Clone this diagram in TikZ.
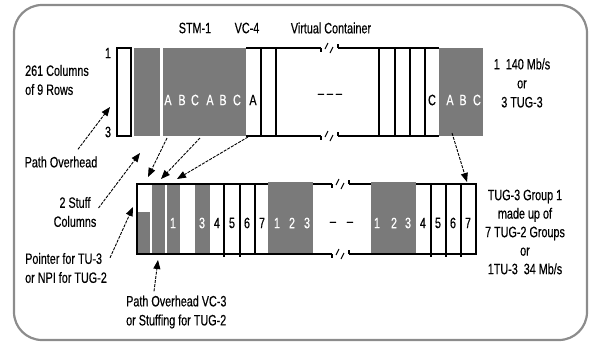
\documentclass[tikz,border=0pt]{standalone}
\usepackage{fontspec}
\setmainfont{Liberation Sans}[FakeStretch=0.72,FakeBold=0.4]
\usetikzlibrary{positioning,arrows.meta}
\definecolor{framegray}{RGB}{140,140,140}
\definecolor{cellgray}{RGB}{122,122,122}

\begin{document}
\begin{tikzpicture}[
        x=1pt, y=-1pt,
        font=\fontsize{15}{19}\selectfont,
        lbl/.style={inner sep=0pt, align=center},
        cell/.style={inner sep=0pt},
        wcell/.style={inner sep=0pt, text=white},
        shade/.style={fill=cellgray},
        bar/.style={line width=1.3pt},
        ptr/.style={
            line width=0.9pt,
            dash pattern=on 3pt off 1.2pt,
            -{Triangle[length=9pt,width=7pt]}
        },
        frame/.style={
            draw=framegray,
            line width=2.2pt,
            rounded corners=28pt
        },
        barcut/.pic={
            \draw[bar] (0,0) -- (0,4);
            \draw[line width=1pt] (4,1) -- (7,-5);
            \draw[line width=1pt] (9,5) -- (12,-1);
            \draw[bar] (17,0) -- (17,-4);
        }
    ]
    \useasboundingbox (0,0) rectangle (590,341);
    \draw[frame] (14,5) rectangle (587,340);

    % STM-1 frame (top bar)
    \fill[shade] (134,48) rectangle (160,136);
    \fill[shade] (163,48) rectangle (246,136);
    \fill[shade] (439,48) rectangle (483,136);
    \draw[bar] (117,48) rectangle (131,136);
    \draw[bar] (246,48) -- (321,48) (338,48) -- (439,48);
    \draw[bar] (246,136) -- (321,136) (338,136) -- (439,136);
    \pic at (321,48) {barcut};
    \pic at (321,136) {barcut};
    \draw[bar] (261,48) -- (261,136) (276,48) -- (276,136)
        (379,48) -- (379,136) (395,48) -- (395,136)
        (410,48) -- (410,136) (425,48) -- (425,136);

    \node[wcell] (ta1) at (168,100) {A};
    \node[wcell] (tb1) at (182,100) {B};
    \node[wcell] (tc1) at (195,100) {C};
    \node[wcell] (ta2) at (210,100) {A};
    \node[wcell] (tb2) at (223,100) {B};
    \node[wcell] (tc2) at (237,100) {C};
    \node[cell] (ta3) at (253,100) {A};
    \node[cell] (tgap) at (330,96) {-- -- --};
    \node[cell] (tc3) at (432,100) {C};
    \node[wcell] (ta4) at (450,100) {A};
    \node[wcell] (tb4) at (463,100) {B};
    \node[wcell] (tc4) at (477,100) {C};

    % TUG-3 group (bottom bar)
    \fill[shade] (137,212) rectangle (150,254);
    \fill[shade] (152,184) rectangle (165,254);
    \fill[shade] (167,184) rectangle (180,254);
    \fill[shade] (195,184) rectangle (210,254);
    \draw[bar] (332,184) -- (137,184) -- (137,254) -- (332,254);
    \draw[bar] (349,184) -- (476,184) -- (476,254) -- (349,254);
    \pic at (332,184) {barcut};
    \pic at (332,254) {barcut};
    \draw[bar] (224,184) -- (224,257) (240,184) -- (240,257) (255,184) -- (255,254)
        (431,184) -- (431,257) (446,184) -- (446,257) (461,184) -- (461,257);
    \fill[shade] (268,182) rectangle (313,253);
    \fill[shade] (371,182) rectangle (416,253);

    \node[wcell] (b1) at (173,223) {1};
    \node[wcell] (b3) at (202,223) {3};
    \node[cell] (b4) at (217,223) {4};
    \node[cell] (b5) at (232,223) {5};
    \node[cell] (b6) at (247,223) {6};
    \node[cell] (b7) at (262,223) {7};
    \node[wcell] (c1) at (277,223) {1};
    \node[wcell] (c2) at (292,223) {2};
    \node[wcell] (c3) at (307,223) {3};
    \node[cell] (gap1) at (333,224) {--};
    \node[cell] (gap2) at (350,224) {--};
    \node[wcell] (d1) at (377,223) {1};
    \node[wcell] (d2) at (394,223) {2};
    \node[wcell] (d3) at (408,223) {3};
    \node[cell] (d4) at (423,223) {4};
    \node[cell] (d5) at (438,223) {5};
    \node[cell] (d6) at (453,223) {6};
    \node[cell] (d7) at (468,223) {7};

    % labels
    \node[lbl] (stm) at (195,28) {STM-1};
    \node[lbl] (vc4) at (247,28) {VC-4};
    \node[lbl] (vcont) at (331,28) {Virtual Container};
    \node[lbl] (row1) at (108,53) {1};
    \node[lbl] (row3) at (108,132) {3};
    \node[lbl, align=left, anchor=west] (cols) at (25,80) {261 Columns\\of 9 Rows};
    \node[lbl] (rate) at (522,83) {1~~140 Mb/s\\or\\3 TUG-3};
    \node[lbl] (pohd) at (61,162) {Path Overhead};
    \node[lbl] (stuff) at (75,212) {2 Stuff\\Columns};
    \node[lbl, align=left, anchor=west] (ptrlbl) at (25,268) {Pointer for TU-3\\or NPI for TUG-2};
    \node[lbl, align=left, anchor=west] (vc3) at (126,312) {Path Overhead VC-3\\or Stuffing for TUG-2};
    \node[lbl, font=\fontsize{15}{18.5}\selectfont] (tug3) at (525,232)
        {TUG-3 Group 1\\made up of\\7 TUG-2 Groups\\or\\1TU-3~~34 Mb/s};

    % arrow ends
    \coordinate (pohdTip) at (110,107);
    \coordinate (stuffTip) at (140,153);
    \coordinate (ovA) at (167,138);
    \coordinate (ovB) at (200,138);
    \coordinate (ovC) at (248,137);
    \coordinate (colTip1) at (148,177);
    \coordinate (colTip2) at (161,179);
    \coordinate (colTip3) at (177,179);
    \coordinate (ptrTip) at (133,207);
    \coordinate (vc3Tip) at (158,260);
    \coordinate (grpC) at (452,133);
    \coordinate (grpTip) at (467,182);

    \draw[ptr] ([xshift=17pt,yshift=7pt]pohd.north) -- (pohdTip);
    \draw[ptr] ([xshift=2pt,yshift=4pt]stuff.east) -- (stuffTip);
    \draw[ptr] (ovA) -- (colTip1);
    \draw[ptr] (ovB) -- (colTip2);
    \draw[ptr] (ovC) -- (colTip3);
    \draw[ptr] ([xshift=3pt,yshift=-5pt]ptrlbl.north east) -- (ptrTip);
    \draw[ptr] ([xshift=28pt,yshift=4pt]vc3.north west) -- (vc3Tip);
    \draw[ptr] (grpC) -- (grpTip);
\end{tikzpicture}
\end{document}
